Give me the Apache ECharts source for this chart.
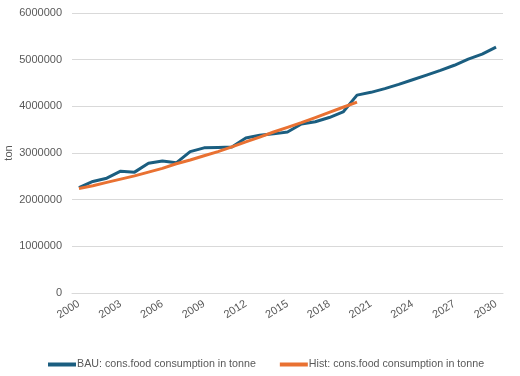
<!DOCTYPE html>
<html>
<head>
<meta charset="utf-8">
<script src="https://cdn.jsdelivr.net/npm/echarts@6/dist/echarts.min.js"></script>
<style>
  html, body { margin: 0; padding: 0; background: #fff; }
  #chart { width: 520px; height: 376px; }
</style>
</head>
<body>
<div id="chart"></div>
<script>
const years = [];
for (let y = 2000; y <= 2030; y++) years.push(String(y));

// BAU projection (tonne)
const bau = [
  2260000, 2390000, 2460000, 2610000, 2590000, 2780000, 2830000, 2790000,
  3030000, 3110000, 3120000, 3130000, 3320000, 3380000, 3410000, 3450000,
  3620000, 3670000, 3760000, 3880000, 4240000, 4300000, 4380000, 4470000,
  4570000, 4670000, 4770000, 4880000, 5010000, 5120000, 5270000
];

// historical series, 2000-2020
const hist = [
  2240000, 2300000, 2370000, 2440000, 2510000, 2590000, 2670000, 2770000,
  2850000, 2940000, 3030000, 3130000, 3240000, 3340000, 3450000, 3550000,
  3650000, 3760000, 3870000, 3980000, 4090000
];

const textColor = '#595959';
const font = 'Liberation Sans';

const myChart = echarts.init(document.getElementById('chart'));
myChart.setOption({
  animation: false,
  grid: { left: 72, right: 17, top: 13, bottom: 83, outerBoundsMode: 'none', containLabel: false },
  legend: {
    bottom: 6,
    left: 48,
    padding: 0,
    itemGap: 24,
    itemWidth: 28,
    itemHeight: 4,
    icon: 'rect',
    textStyle: { color: textColor, fontSize: 10.7, fontFamily: font, padding: [0, 0, 0, -4] },
    data: ['BAU: cons.food consumption in tonne', 'Hist: cons.food consumption in tonne']
  },
  xAxis: {
    type: 'category',
    data: years,
    boundaryGap: true,
    axisLine: { show: true, lineStyle: { color: '#d9d9d9' } },
    axisTick: { show: false },
    axisLabel: {
      interval: 2,
      rotate: 32,
      margin: 10,
      color: textColor,
      fontSize: 11,
      fontFamily: font
    }
  },
  yAxis: {
    type: 'value',
    min: 0,
    max: 6000000,
    interval: 1000000,
    name: 'ton',
    nameLocation: 'middle',
    nameGap: 58,
    nameMoveOverlap: false,
    nameTextStyle: { color: textColor, fontSize: 11, fontFamily: font },
    axisLine: { show: false },
    axisTick: { show: false },
    axisLabel: {
      color: textColor, fontSize: 11, fontFamily: font, margin: 10,
      formatter: (v) => String(v)
    },
    splitLine: { lineStyle: { color: '#d9d9d9' } }
  },
  series: [
    {
      name: 'BAU: cons.food consumption in tonne',
      type: 'line',
      data: bau,
      symbol: 'none',
      lineStyle: { width: 3, color: '#1b5e80' },
      itemStyle: { color: '#1b5e80' }
    },
    {
      name: 'Hist: cons.food consumption in tonne',
      type: 'line',
      data: hist,
      symbol: 'none',
      lineStyle: { width: 3, color: '#e97132' },
      itemStyle: { color: '#e97132' }
    }
  ]
});
</script>
</body>
</html>
